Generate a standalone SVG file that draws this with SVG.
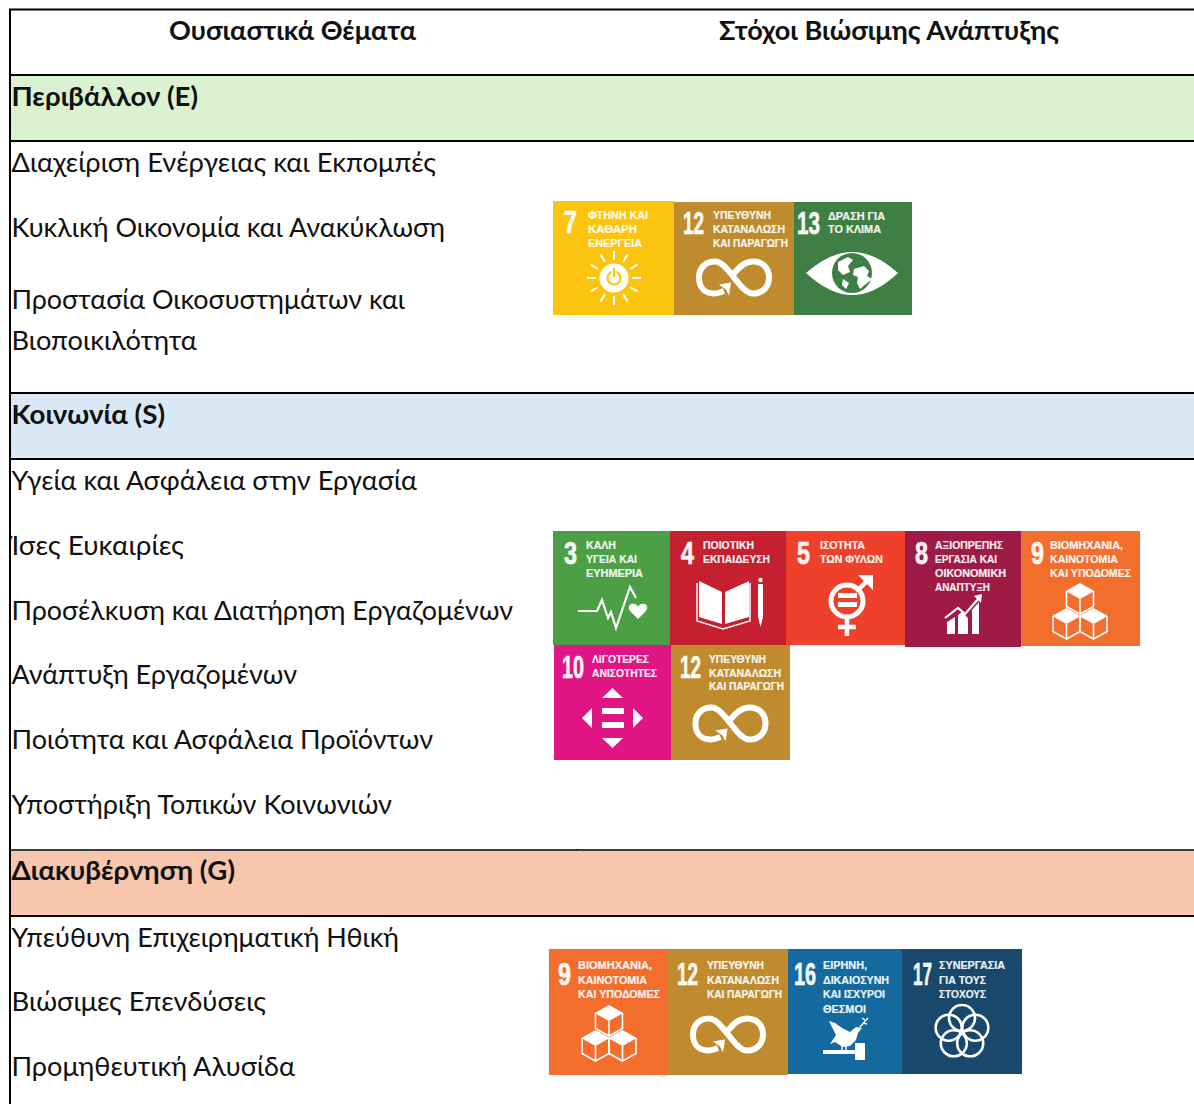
<svg xmlns="http://www.w3.org/2000/svg" width="1194" height="1104" viewBox="0 0 1194 1104">
<style>
.m{font-family:"Lato","Open Sans","Noto Sans",sans-serif;font-size:26.5px;fill:#111}
.b{font-family:"Lato","Open Sans","Noto Sans",sans-serif;font-size:26.5px;font-weight:700;fill:#111}
.l{font-family:"Liberation Sans Narrow","Liberation Sans",sans-serif;font-size:11px;font-weight:700;fill:#fff;fill-opacity:.93;stroke:#fff;stroke-width:.2}
.n{font-family:"Liberation Sans Narrow","Liberation Sans",sans-serif;font-size:31px;font-weight:700;fill:#fff;fill-opacity:.95;stroke:#fff;stroke-width:.7}
.rule{stroke:#000;stroke-width:2;fill:none}
.w{fill:#fff;stroke:none}
.ws{fill:none;stroke:#fff;stroke-linecap:butt;stroke-linejoin:miter}
</style>
<defs>
<g id="inf"><path class="ws" stroke-width="6" d="M-10,13.5 C-14,15 -18,16 -20,16 C-30,16 -35,9 -35,0 C-35,-10 -28,-16 -19,-16 C-6,-16 6,16 19,16 C29,16 35,9 35,0 C35,-9 29,-16 19,-16 C9,-16 4,-8 -1,-3"/><polygon class="w" points="-15,7 -3,5 -5,18 -8,12"/></g>
<g id="cube"><path class="w" d="M0,-15 L13.5,-7.5 L0,0 L-13.5,-7.5 Z"/><path class="ws" stroke-width="1.6" d="M0,-15 L13.5,-7.5 L13.5,7.5 L0,15 L-13.5,7.5 L-13.5,-7.5 Z M0,0 V15"/></g>
<g id="cubes"><use href="#cube" x="27" y="15"/><use href="#cube" x="13.5" y="40"/><use href="#cube" x="40.5" y="40"/></g>
</defs>
<rect width="1194" height="1104" fill="#fff"/>

<g id="bands">
<rect x="11" y="76" width="1183" height="64" fill="#DAF2D0"/>
<rect x="11" y="394" width="1183" height="64" fill="#DAE8F6"/>
<rect x="11" y="851" width="1183" height="64" fill="#F7C6AD"/>
</g>
<g id="grid">
<path class="rule" d="M10,1104 V9.5 H1194 M10,75 H1194 M10,141 H1194 M10,393 H1194 M10,459 H1194 M10,916 H1194"/>
<path d="M11,850 H1194 M577,849 V850.5" stroke="#000" stroke-width="1.5" fill="none"/>
</g>

<g id="labels">
<text class="b" x="169" y="40" textLength="247" lengthAdjust="spacingAndGlyphs">Ουσιαστικά Θέματα</text>
<text class="b" x="719" y="40" textLength="340" lengthAdjust="spacingAndGlyphs">Στόχοι Βιώσιμης Ανάπτυξης</text>
<text class="b" x="11.5" y="106" textLength="186.5" lengthAdjust="spacingAndGlyphs">Περιβάλλον (E)</text>
<text class="m" x="11.5" y="172" textLength="424.5" lengthAdjust="spacingAndGlyphs">Διαχείριση Ενέργειας και Εκπομπές</text>
<text class="m" x="11.5" y="237" textLength="433.5" lengthAdjust="spacingAndGlyphs">Κυκλική Οικονομία και Ανακύκλωση</text>
<text class="m" x="11.5" y="309" textLength="393.5" lengthAdjust="spacingAndGlyphs">Προστασία Οικοσυστημάτων και</text>
<text class="m" x="11.5" y="350" textLength="185.5" lengthAdjust="spacingAndGlyphs">Βιοποικιλότητα</text>
<text class="b" x="11.5" y="424" textLength="153.5" lengthAdjust="spacingAndGlyphs">Κοινωνία (S)</text>
<text class="m" x="11.5" y="490" textLength="405.5" lengthAdjust="spacingAndGlyphs">Υγεία και Ασφάλεια στην Εργασία</text>
<text class="m" x="11.5" y="555" textLength="172.5" lengthAdjust="spacingAndGlyphs">Ίσες Ευκαιρίες</text>
<text class="m" x="11.5" y="620" textLength="501.5" lengthAdjust="spacingAndGlyphs">Προσέλκυση και Διατήρηση Εργαζομένων</text>
<text class="m" x="11.5" y="684" textLength="285.5" lengthAdjust="spacingAndGlyphs">Ανάπτυξη Εργαζομένων</text>
<text class="m" x="11.5" y="749" textLength="421.5" lengthAdjust="spacingAndGlyphs">Ποιότητα και Ασφάλεια Προϊόντων</text>
<text class="m" x="11.5" y="814" textLength="380.5" lengthAdjust="spacingAndGlyphs">Υποστήριξη Τοπικών Κοινωνιών</text>
<text class="b" x="11.5" y="880" textLength="223.5" lengthAdjust="spacingAndGlyphs">Διακυβέρνηση (G)</text>
<text class="m" x="11.5" y="947" textLength="387.5" lengthAdjust="spacingAndGlyphs">Υπεύθυνη Επιχειρηματική Ηθική</text>
<text class="m" x="11.5" y="1011" textLength="254.5" lengthAdjust="spacingAndGlyphs">Βιώσιμες Επενδύσεις</text>
<text class="m" x="11.5" y="1076" textLength="283.5" lengthAdjust="spacingAndGlyphs">Προμηθευτική Αλυσίδα</text>
</g>

<g id="sdg7-e">
<rect x="553" y="201" width="121" height="114" fill="#FDC40F"/>
<text class="n" x="564" y="233" textLength="13" lengthAdjust="spacingAndGlyphs">7</text>
<text class="l" x="588" y="219" textLength="60" lengthAdjust="spacingAndGlyphs">ΦΤΗΝΗ ΚΑΙ</text>
<text class="l" x="588" y="233" textLength="49" lengthAdjust="spacingAndGlyphs">ΚΑΘΑΡΗ</text>
<text class="l" x="588" y="247" textLength="54" lengthAdjust="spacingAndGlyphs">ΕΝΕΡΓΕΙΑ</text>
<g transform="translate(614,278)">
<circle class="w" r="14.5"/>
<circle r="6.5" fill="none" stroke="#FDC40F" stroke-width="2.2"/>
<path d="M0,-10 V-1" stroke="#FFF" stroke-width="5"/><path d="M0,-10 V-1" stroke="#FDC40F" stroke-width="2.2"/>
<path class="ws" stroke-width="2" d="M0,-18 V-27 M0,18 V27 M-18,0 H-27 M18,0 H27 M9,-16 L13.5,-23.5 M-9,-16 L-13.5,-23.5 M9,16 L13.5,23.5 M-9,16 L-13.5,23.5 M16,-9 L23.5,-13.5 M-16,-9 L-23.5,-13.5 M16,9 L23.5,13.5 M-16,9 L-23.5,13.5"/>
</g>
</g>

<g id="sdg12-e">
<rect x="674" y="202" width="120" height="113" fill="#BF8B2E"/>
<text class="n" x="683" y="234" textLength="21" lengthAdjust="spacingAndGlyphs">12</text>
<text class="l" x="713" y="219" textLength="58" lengthAdjust="spacingAndGlyphs">ΥΠΕΥΘΥΝΗ</text>
<text class="l" x="713" y="233" textLength="72" lengthAdjust="spacingAndGlyphs">ΚΑΤΑΝΑΛΩΣΗ</text>
<text class="l" x="713" y="247" textLength="75" lengthAdjust="spacingAndGlyphs">ΚΑΙ ΠΑΡΑΓΩΓΗ</text>
<use href="#inf" x="734" y="277.5"/>
</g>

<g id="sdg13-e">
<rect x="794" y="202" width="118" height="113" fill="#3F7E44"/>
<text class="n" x="797" y="234" textLength="23" lengthAdjust="spacingAndGlyphs">13</text>
<text class="l" x="828" y="220" textLength="57" lengthAdjust="spacingAndGlyphs">ΔΡΑΣΗ ΓΙΑ</text>
<text class="l" x="828" y="233" textLength="53" lengthAdjust="spacingAndGlyphs">ΤΟ ΚΛΙΜΑ</text>
<path class="w" d="M806,273 Q830,252 852,252 Q875,252 898,273 Q875,295 852,295 Q830,295 806,273 Z"/>
<circle cx="852" cy="273" r="20" fill="#3F7E44"/>
<path class="w" d="M838,262 L848,257 L853,260 L848,266 L850,272 L843,275 L838,270 Z M854,269 L864,266 L869,271 L867,276 L872,279 L866,284 L860,289 L857,283 L858,277 L853,275 Z M843,279 L849,283 L846,289 L842,285 Z"/>
</g>

<g id="sdg3-s">
<rect x="553" y="531" width="117" height="114" fill="#4C9F45"/>
<text class="n" x="564" y="564" textLength="13" lengthAdjust="spacingAndGlyphs">3</text>
<text class="l" x="586" y="549" textLength="30" lengthAdjust="spacingAndGlyphs">ΚΑΛΗ</text>
<text class="l" x="586" y="563" textLength="51" lengthAdjust="spacingAndGlyphs">ΥΓΕΙΑ ΚΑΙ</text>
<text class="l" x="586" y="577" textLength="57" lengthAdjust="spacingAndGlyphs">ΕΥΗΜΕΡΙΑ</text>
<polyline class="ws" stroke-width="2.2" points="578,611 597,611 602,600 608,618 611,612 616,628 630,587 636,598"/>
<path class="w" d="M638,619 L630,611 C627,607 630,603 634,604 C636,604 638,606 638,607 C638,606 640,604 642,604 C646,603 649,607 646,611 Z"/>
</g>

<g id="sdg4-s">
<rect x="670" y="531" width="116" height="114" fill="#C51F30"/>
<text class="n" x="681" y="564" textLength="13" lengthAdjust="spacingAndGlyphs">4</text>
<text class="l" x="703" y="549" textLength="51" lengthAdjust="spacingAndGlyphs">ΠΟΙΟΤΙΚΗ</text>
<text class="l" x="703" y="563" textLength="67" lengthAdjust="spacingAndGlyphs">ΕΚΠΑΙΔΕΥΣΗ</text>
<polygon class="w" points="699,581 722,592 722,624 699,617"/>
<polygon class="w" points="725,592 749,581 749,617 725,624"/>
<polyline class="ws" stroke-width="1.5" points="697,583 697,621 723,629 750,621 750,583"/>
<path class="w" d="M758,584 H763 V617 L760.5,627 L758,617 Z"/><circle class="w" cx="760.5" cy="580" r="2.2"/>
</g>

<g id="sdg5-s">
<rect x="786" y="531" width="119" height="114" fill="#EF402B"/>
<text class="n" x="797" y="564" textLength="13" lengthAdjust="spacingAndGlyphs">5</text>
<text class="l" x="820" y="549" textLength="45" lengthAdjust="spacingAndGlyphs">ΙΣΟΤΗΤΑ</text>
<text class="l" x="820" y="563" textLength="63" lengthAdjust="spacingAndGlyphs">ΤΩΝ ΦΥΛΩΝ</text>
<circle cx="847" cy="601" r="16" fill="none" stroke="#fff" stroke-width="5"/>
<path class="ws" stroke-width="4.5" d="M858,590 L870,578 M847,619 V636 M838,627 H856"/>
<polygon class="w" points="858,575 873,575 873,590"/>
<path class="w" d="M838,593 H857 V598 H838 Z M838,602 H857 V607 H838 Z"/>
</g>

<g id="sdg8-s">
<rect x="905" y="531" width="116" height="116" fill="#A01A46"/>
<text class="n" x="915" y="564" textLength="13" lengthAdjust="spacingAndGlyphs">8</text>
<text class="l" x="935" y="549" textLength="68" lengthAdjust="spacingAndGlyphs">ΑΞΙΟΠΡΕΠΗΣ</text>
<text class="l" x="935" y="563" textLength="62" lengthAdjust="spacingAndGlyphs">ΕΡΓΑΣΙΑ ΚΑΙ</text>
<text class="l" x="935" y="577" textLength="71" lengthAdjust="spacingAndGlyphs">ΟΙΚΟΝΟΜΙΚΗ</text>
<text class="l" x="935" y="591" textLength="55" lengthAdjust="spacingAndGlyphs">ΑΝΑΠΤΥΞΗ</text>
<path class="w" d="M947,622 L955,617 V634 H947 Z M958,615 L962,612 L968,618 V634 H958 Z M972,610 L979,602 V634 H972 Z"/>
<polyline class="ws" stroke-width="2.2" points="945,618 958,608 965,614 979,598"/>
<polygon class="w" points="974,596 982,594 981,603"/>
</g>

<g id="sdg9-s">
<rect x="1021" y="531" width="119" height="115" fill="#F36D2C"/>
<text class="n" x="1031" y="564" textLength="13" lengthAdjust="spacingAndGlyphs">9</text>
<text class="l" x="1050" y="549" textLength="73" lengthAdjust="spacingAndGlyphs">ΒΙΟΜΗΧΑΝΙΑ,</text>
<text class="l" x="1050" y="563" textLength="68" lengthAdjust="spacingAndGlyphs">ΚΑΙΝΟΤΟΜΙΑ</text>
<text class="l" x="1050" y="577" textLength="81" lengthAdjust="spacingAndGlyphs">ΚΑΙ ΥΠΟΔΟΜΕΣ</text>
<use href="#cubes" x="1053" y="584"/>
</g>

<g id="sdg10-s">
<rect x="554" y="645" width="117" height="115" fill="#E11484"/>
<text class="n" x="562" y="678" textLength="22" lengthAdjust="spacingAndGlyphs">10</text>
<text class="l" x="592" y="663" textLength="57" lengthAdjust="spacingAndGlyphs">ΛΙΓΟΤΕΡΕΣ</text>
<text class="l" x="592" y="677" textLength="65" lengthAdjust="spacingAndGlyphs">ΑΝΙΣΟΤΗΤΕΣ</text>
<path class="w" d="M602,698 L612.5,688 L623,698 Z M602,738 H623 L612.5,748 Z M592,708 V728 L582,718 Z M633,708 L643,718 L633,728 Z M602,708 H624 V714 H602 Z M602,722 H624 V728 H602 Z"/>
</g>

<g id="sdg12-s">
<rect x="671" y="645" width="119" height="115" fill="#BF8B2E"/>
<text class="n" x="680" y="678" textLength="21" lengthAdjust="spacingAndGlyphs">12</text>
<text class="l" x="709" y="663" textLength="57" lengthAdjust="spacingAndGlyphs">ΥΠΕΥΘΥΝΗ</text>
<text class="l" x="709" y="677" textLength="72" lengthAdjust="spacingAndGlyphs">ΚΑΤΑΝΑΛΩΣΗ</text>
<text class="l" x="709" y="690" textLength="75" lengthAdjust="spacingAndGlyphs">ΚΑΙ ΠΑΡΑΓΩΓΗ</text>
<use href="#inf" x="730.5" y="723.5"/>
</g>

<g id="sdg9-g">
<rect x="549" y="949" width="119" height="126" fill="#F36D2C"/>
<text class="n" x="558" y="985" textLength="13" lengthAdjust="spacingAndGlyphs">9</text>
<text class="l" x="578" y="969" textLength="74" lengthAdjust="spacingAndGlyphs">ΒΙΟΜΗΧΑΝΙΑ,</text>
<text class="l" x="578" y="984" textLength="69" lengthAdjust="spacingAndGlyphs">ΚΑΙΝΟΤΟΜΙΑ</text>
<text class="l" x="578" y="998" textLength="82" lengthAdjust="spacingAndGlyphs">ΚΑΙ ΥΠΟΔΟΜΕΣ</text>
<use href="#cubes" x="582" y="1006"/>
</g>

<g id="sdg12-g">
<rect x="668" y="949" width="120" height="126" fill="#BF8B2E"/>
<text class="n" x="677" y="985" textLength="21" lengthAdjust="spacingAndGlyphs">12</text>
<text class="l" x="707" y="969" textLength="57" lengthAdjust="spacingAndGlyphs">ΥΠΕΥΘΥΝΗ</text>
<text class="l" x="707" y="984" textLength="72" lengthAdjust="spacingAndGlyphs">ΚΑΤΑΝΑΛΩΣΗ</text>
<text class="l" x="707" y="998" textLength="75" lengthAdjust="spacingAndGlyphs">ΚΑΙ ΠΑΡΑΓΩΓΗ</text>
<use href="#inf" x="728" y="1034.5"/>
</g>

<g id="sdg16-g">
<rect x="788" y="949" width="114" height="125" fill="#146A9F"/>
<text class="n" x="794" y="985" textLength="22" lengthAdjust="spacingAndGlyphs">16</text>
<text class="l" x="823" y="969" textLength="44" lengthAdjust="spacingAndGlyphs">ΕΙΡΗΝΗ,</text>
<text class="l" x="823" y="984" textLength="66" lengthAdjust="spacingAndGlyphs">ΔΙΚΑΙΟΣΥΝΗ</text>
<text class="l" x="823" y="998" textLength="62" lengthAdjust="spacingAndGlyphs">ΚΑΙ ΙΣΧΥΡΟΙ</text>
<text class="l" x="823" y="1013" textLength="43" lengthAdjust="spacingAndGlyphs">ΘΕΣΜΟΙ</text>
<path class="w" d="M829,1021 L835,1023 L842,1028 L850,1032 L856,1027 L862,1028 L858,1033 L856,1040 L850,1046 L843,1047 L835,1042 L830,1044 L836,1035 Z"/>
<path class="ws" stroke-width="1.4" d="M860,1027 L868,1018 M863,1023 L867,1024 M865,1020 L862,1018 M842,1046 V1051 M846,1046 V1051"/>
<path class="w" d="M823,1050 H856 V1054 H823 Z M855,1043 H865 V1060 H855 Z"/>
</g>

<g id="sdg17-g">
<rect x="902" y="949" width="120" height="125" fill="#18486B"/>
<text class="n" x="913" y="985" textLength="19" lengthAdjust="spacingAndGlyphs">17</text>
<text class="l" x="939" y="969" textLength="66" lengthAdjust="spacingAndGlyphs">ΣΥΝΕΡΓΑΣΙΑ</text>
<text class="l" x="939" y="984" textLength="47" lengthAdjust="spacingAndGlyphs">ΓΙΑ ΤΟΥΣ</text>
<text class="l" x="939" y="998" textLength="47" lengthAdjust="spacingAndGlyphs">ΣΤΟΧΟΥΣ</text>
<g fill="none" stroke="#fff" stroke-width="2.6">
<circle cx="962" cy="1018" r="13"/>
<circle cx="975.3" cy="1027.7" r="13"/>
<circle cx="970.2" cy="1043.3" r="13"/>
<circle cx="953.8" cy="1043.3" r="13"/>
<circle cx="948.7" cy="1027.7" r="13"/>
</g>
</g>
</svg>
